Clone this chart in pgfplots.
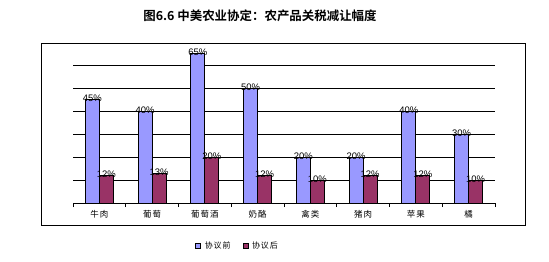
\documentclass[border=0pt]{standalone}
\usepackage{fontspec}
\usepackage{pgfplots}
\pgfplotsset{compat=1.18}
\setmainfont{Liberation Sans}
\newfontfamily\cjk{Noto Sans CJK SC}[BoldFont={Noto Sans CJK SC Bold}]
\newfontfamily\cjkspaced{Noto Sans CJK SC}[LetterSpace=12]
\definecolor{before}{RGB}{153,153,255}
\definecolor{after}{RGB}{153,51,102}
\begin{document}
\begin{tikzpicture}[x=1bp,y=1bp]
\path[use as bounding box] (0,0) rectangle (549,261);
\draw[black, line width=0.9bp] (41,36) rectangle (525,218);
\node[font=\cjk\bfseries\fontsize{12.5}{14}\selectfont] at (260,245) {图6.6 中美农业协定：农产品关税减让幅度};
\begin{axis}[
  at={(73bp,58bp)}, anchor=south west,
  scale only axis, width=422bp, height=161bp,
  ybar=0pt, bar width=14bp,
  xmin=-0.5, xmax=7.5, ymin=0, ymax=70,
  xtick={0,...,7},
  xticklabels={牛肉,葡萄,葡萄酒,奶酪,禽类,猪肉,苹果,橘},
  xticklabel style={font=\cjkspaced\fontsize{8.5}{9}\selectfont, yshift=0bp},
  major x tick style={draw=none},
  minor xtick={-0.5,0.5,...,7.5},
  minor tick length=4bp,
  minor x tick style={black, line width=0.8bp},
  tick align=outside,
  ytick={10,20,...,60}, yticklabels={},
  major y tick style={draw=none},
  ymajorgrids, grid style={black, line width=0.8bp},
  axis x line*=bottom, axis y line*=left,
  x axis line style={black, line width=0.9bp, -},
  y axis line style={draw=none},
  /pgf/number format/assume math mode=true,
  nodes near coords={\pgfmathprintnumber{\pgfplotspointmeta}\%},
  nodes near coords style={font=\fontsize{9.5}{10}\selectfont, anchor=center, yshift=1bp},
  legend style={at={(0.39,-0.267)}, anchor=center, draw=none, legend columns=2,
    font=\cjkspaced\fontsize{8}{9}\selectfont,
    /tikz/every odd column/.append style={column sep=2bp},
    /tikz/every even column/.append style={column sep=10bp}},
  legend image code/.code={\draw[#1, line width=0.5bp] (0bp,-2.5bp) rectangle (5bp,2.5bp);},
]
\addplot[fill=before, draw=black, line width=0.8bp] coordinates {(0,45) (1,40) (2,65) (3,50) (4,20) (5,20) (6,40) (7,30)};
\addplot[fill=after, draw=black, line width=0.8bp] coordinates {(0,12) (1,13) (2,20) (3,12) (4,10) (5,12) (6,12) (7,10)};
\legend{协议前,协议后}
\end{axis}
\end{tikzpicture}
\end{document}
